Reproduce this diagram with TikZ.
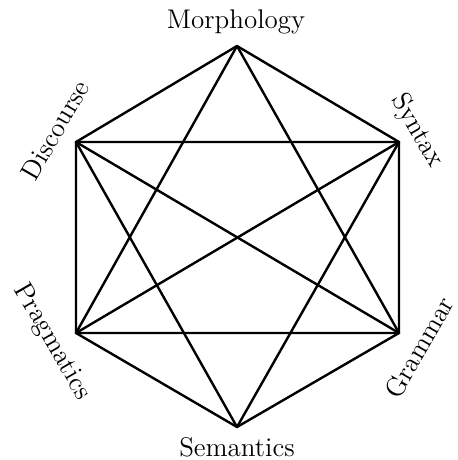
\documentclass[tikz,border=0pt]{standalone}
\begin{document}
\begin{tikzpicture}[x=0.5pt,y=-0.5pt,
  edge/.style={line width=1.2pt, line join=round, line cap=round},
  lab/.style={inner sep=0pt, font=\fontsize{13.5}{16}\selectfont}]
\useasboundingbox (0,0) rectangle (458,460);
\coordinate (T) at (237,46);
\coordinate (UR) at (399,142);
\coordinate (LR) at (399,333);
\coordinate (B) at (237,427);
\coordinate (LL) at (76,333);
\coordinate (UL) at (76,142);
% hexagon sides
\draw[edge] (T) -- (UR) -- (LR) -- (B) -- (LL) -- (UL) -- cycle;
% triangles
\draw[edge] (T) -- (LR) -- (LL) -- cycle;
\draw[edge] (B) -- (UL) -- (UR) -- cycle;
% long diagonals
\draw[edge] (UL) -- (LR);
\draw[edge] (UR) -- (LL);
% labels
\node[lab] (morph) at (236,22) {Morphology};
\node[lab] (sem) at (237,447) {Semantics};
\node[lab, rotate=60] (disc) at (55,130) {Discourse};
\node[lab, rotate=-60] (prag) at (52,342) {Pragmatics};
\node[lab, rotate=-60] (syn) at (417,131) {Syntax};
\node[lab, rotate=60] (gram) at (419,347) {Grammar};
\end{tikzpicture}
\end{document}
